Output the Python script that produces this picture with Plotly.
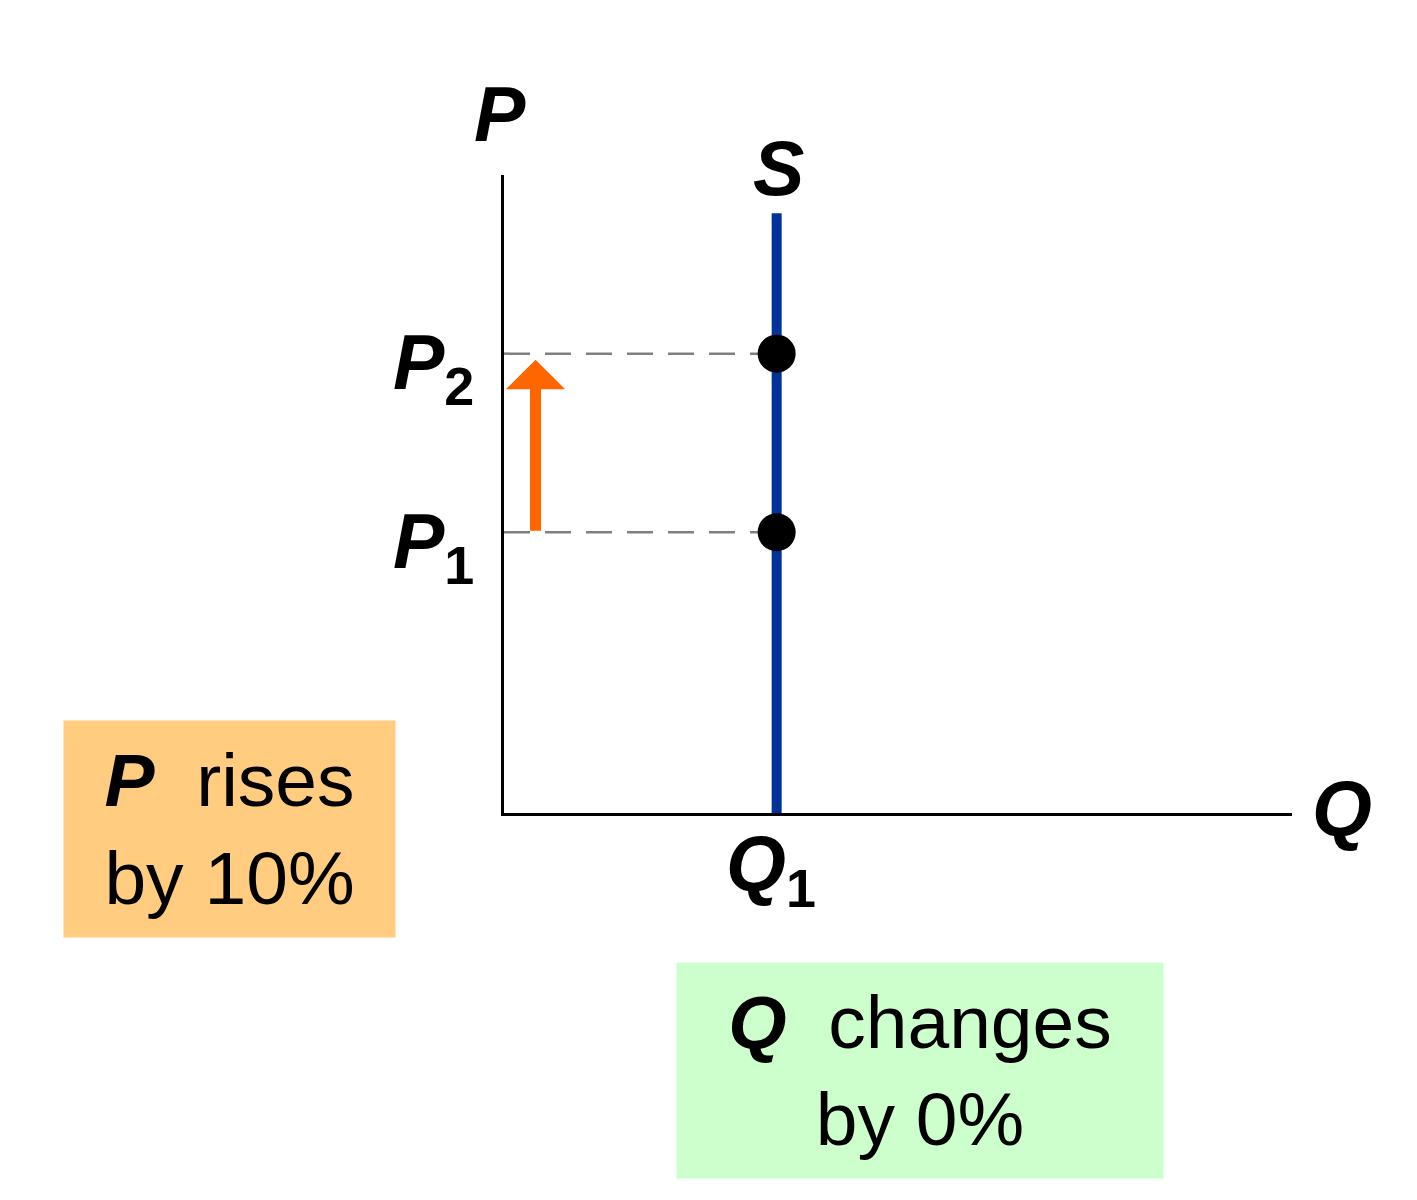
import plotly.graph_objects as go

# ---- data (axis units 0-100) ----
Q1 = 34.6          # quantity supplied (vertical supply curve)
P1 = 44.0          # initial price
P2 = 72.0          # new price
S_TOP = 94.0       # top of supply line
ARROW_X = 4.0      # x position of the price-rise arrow
price_levels = [P1, P2]
price_labels = ["P<sub><span style='font-style:normal'>1</span></sub>",
                "P<sub><span style='font-style:normal'>2</span></sub>"]
qty_label = "Q<sub><span style='font-style:normal'>1</span></sub>"
box_p_text = "<b><i>P</i></b>  rises<br>by 10%"
box_q_text = "<b><i>Q</i></b>  changes<br>by 0%"

FONT = "Arial, 'Liberation Sans', sans-serif"
BLACK = "#000000"
BLUE = "#003399"
ORANGE = "#FF6600"
GRAY = "#808080"

fig = go.Figure()

# dashed guide lines from the P axis to the supply curve
for p in price_levels:
    fig.add_trace(go.Scatter(
        x=[0, Q1], y=[p, p], mode="lines",
        line=dict(color=GRAY, width=2.5, dash="26px,15px"),
        hoverinfo="skip", showlegend=False))

# vertical supply curve
fig.add_trace(go.Scatter(
    x=[Q1, Q1], y=[0, S_TOP], mode="lines",
    line=dict(color=BLUE, width=10),
    hoverinfo="skip", showlegend=False))

# equilibrium points
fig.add_trace(go.Scatter(
    x=[Q1] * len(price_levels), y=price_levels, mode="markers",
    marker=dict(color=BLACK, size=38),
    hoverinfo="skip", showlegend=False))

annotations = []

# orange arrow: price rises from P1 to P2
annotations.append(dict(
    x=ARROW_X, y=P2, xref="x", yref="y",
    ax=ARROW_X, ay=P1, axref="x", ayref="y",
    text="", showarrow=True, arrowhead=1, arrowsize=0.9,
    arrowwidth=11, arrowcolor=ORANGE, standoff=6))

label_font = dict(family=FONT, size=77, color=BLACK, weight="bold", style="italic")

# price tick labels
for p, lab in zip(price_levels, price_labels):
    annotations.append(dict(
        x=0, y=p, xref="x", yref="y", text=lab, showarrow=False,
        xanchor="right", yanchor="middle", xshift=-28, yshift=-14,
        font=label_font))

# quantity tick label
annotations.append(dict(
    x=Q1, y=0, xref="x", yref="y", text=qty_label, showarrow=False,
    xanchor="center", yanchor="top", xshift=-6, yshift=-6,
    font=label_font))

# supply label
annotations.append(dict(
    x=Q1, y=S_TOP, xref="x", yref="y", text="S", showarrow=False,
    xanchor="center", yanchor="bottom", xshift=2, yshift=0,
    font=label_font))

# axis titles
annotations.append(dict(
    x=0, y=1.0, xref="x", yref="paper", text="P", showarrow=False,
    xanchor="center", yanchor="bottom", xshift=-4, yshift=16,
    font=label_font))
annotations.append(dict(
    x=1.0, y=0, xref="paper", yref="y", text="Q", showarrow=False,
    xanchor="left", yanchor="middle", xshift=18, yshift=4,
    font=label_font))

box_font = dict(family=FONT, size=75, color=BLACK)

# orange text box
annotations.append(dict(
    x=(229.5 - 504) / 788, y=(813 - 829) / 638, xref="paper", yref="paper",
    text=box_p_text, showarrow=False, align="center",
    xanchor="center", yanchor="middle",
    width=331, height=216, bgcolor="#FFCC80", borderpad=0,
    font=box_font))

# green text box
annotations.append(dict(
    x=(920 - 504) / 788, y=(813 - 1070.5) / 638, xref="paper", yref="paper",
    text=box_q_text, showarrow=False, align="center",
    xanchor="center", yanchor="middle",
    width=486, height=215, bgcolor="#CCFFCC", borderpad=0,
    font=box_font))

fig.update_layout(
    width=1417, height=1200,
    margin=dict(l=504, r=125, t=175, b=387),
    paper_bgcolor="white", plot_bgcolor="white",
    showlegend=False,
    annotations=annotations,
    xaxis=dict(range=[0, 100], showline=True, linecolor=BLACK, linewidth=3,
               showgrid=False, zeroline=False, showticklabels=False, ticks="",
               fixedrange=True),
    yaxis=dict(range=[0, 100], showline=True, linecolor=BLACK, linewidth=3,
               showgrid=False, zeroline=False, showticklabels=False, ticks="",
               fixedrange=True),
)

fig.write_html("out.html", config=dict(displayModeBar=False),
               post_script="document.body.style.margin='0';")
